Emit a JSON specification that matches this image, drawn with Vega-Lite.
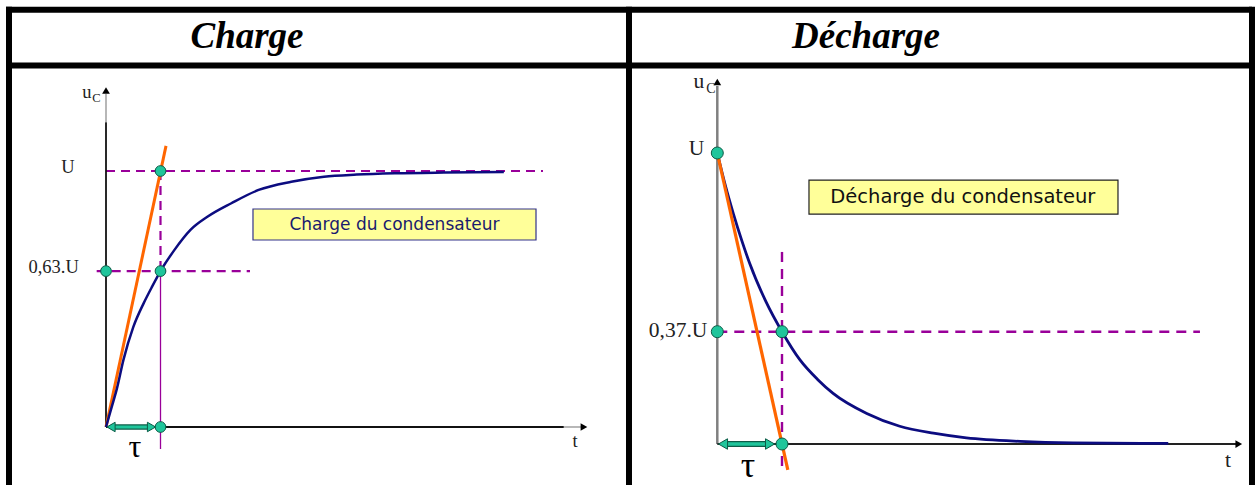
{
  "$schema": "https://vega.github.io/schema/vega-lite/v6.json",
  "padding": 0,
  "autosize": {"type": "pad"},
  "background": "white",
  "spacing": 0,
  "bounds": "flush",
  "config": {"view": {"stroke": null}, "concat": {"spacing": 0}},
  "hconcat": [
    {
      "width": 632,
      "height": 489,
      "encoding": {
        "x": {"field": "t", "type": "quantitative", "scale": {"domain": [-1.945, 9.6514], "nice": false, "zero": false}, "axis": null},
        "y": {"field": "u", "type": "quantitative", "scale": {"domain": [-0.2422, 1.668], "nice": false, "zero": false}, "axis": null}
      },
      "layer": [
        {
          "data": {"values": [
            {"t": -1.7798, "t2": -1.7798, "u": 1.6418, "u2": -0.2266},
            {"t": 9.5963, "t2": 9.5963, "u": 1.6418, "u2": -0.2266},
            {"t": -1.8349, "t2": 9.6514, "u": 1.6301, "u2": 1.6301},
            {"t": -1.8349, "t2": 9.6514, "u": 1.4121, "u2": 1.4121}
          ]},
          "mark": {"type": "rule", "color": "black", "strokeWidth": 6, "strokeCap": "butt"},
          "encoding": {"x2": {"field": "t2"}, "y2": {"field": "u2"}}
        },
        {
          "data": {"values": [{"label": "Charge", "t": 2.587, "u": 1.4805}]},
          "mark": {"type": "text", "font": "Liberation Serif", "fontSize": 37, "fontWeight": "bold", "fontStyle": "italic", "align": "center", "baseline": "alphabetic", "color": "black"},
          "encoding": {"text": {"field": "label"}}
        },
        {
          "data": {"values": [{"t": 2.697, "t2": 7.89, "u": 0.7305, "u2": 0.8516}]},
          "mark": {"type": "rect", "fill": "#ffff99", "stroke": "#33338a", "strokeWidth": 1.2},
          "encoding": {"x2": {"field": "t2"}, "y2": {"field": "u2"}}
        },
        {
          "data": {"values": [{"label": "Charge du condensateur", "t": 5.294, "u": 0.789}]},
          "mark": {"type": "text", "font": "DejaVu Sans", "fontSize": 17, "align": "center", "baseline": "middle", "color": "#1a1a6e"},
          "encoding": {"text": {"field": "label"}}
        },
        {
          "data": {"values": [
            {"t": 0, "t2": 8.018, "u": 1, "u2": 1},
            {"t": -0.171, "t2": 2.642, "u": 0.609, "u2": 0.609},
            {"t": 1, "t2": 1, "u": 1, "u2": 0.609}
          ]},
          "mark": {"type": "rule", "color": "#990099", "strokeWidth": 2.2, "strokeDash": [9, 6]},
          "encoding": {"x2": {"field": "t2"}, "y2": {"field": "u2"}}
        },
        {
          "data": {"values": [{"t": 1, "t2": 1, "u": 0.609, "u2": -0.086}]},
          "mark": {"type": "rule", "color": "#990099", "strokeWidth": 1.3},
          "encoding": {"x2": {"field": "t2"}, "y2": {"field": "u2"}}
        },
        {
          "data": {"values": [
            {"t": 0, "t2": 0, "u": 0, "u2": 1.19},
            {"t": 0, "t2": 8.4, "u": 0, "u2": 0}
          ]},
          "mark": {"type": "rule", "color": "#111111", "strokeWidth": 1.8},
          "encoding": {"x2": {"field": "t2"}, "y2": {"field": "u2"}}
        },
        {
          "data": {"values": [
            {"t": 0, "t2": 0, "u": 1.19, "u2": 1.3008},
            {"t": 8.4, "t2": 8.716, "u": 0, "u2": 0}
          ]},
          "mark": {"type": "rule", "color": "#888888", "strokeWidth": 1.2},
          "encoding": {"x2": {"field": "t2"}, "y2": {"field": "u2"}}
        },
        {
          "data": {"values": [{"t": 0, "u": 1.3145}]},
          "mark": {"type": "point", "shape": "triangle-up", "filled": true, "color": "black", "size": 60, "opacity": 1}
        },
        {
          "data": {"values": [{"t": 8.77, "u": 0}]},
          "mark": {"type": "point", "shape": "triangle-right", "filled": true, "color": "black", "size": 60, "opacity": 1}
        },
        {
          "data": {"values": [{"t": 0, "t2": 1.101, "u": 0, "u2": 1.098}]},
          "mark": {"type": "rule", "color": "#ff6600", "strokeWidth": 3},
          "encoding": {"x2": {"field": "t2"}, "y2": {"field": "u2"}}
        },
        {
          "data": {"values": [
            {"t": 0, "u": 0}, {"t": 0.1, "u": 0.075}, {"t": 0.2, "u": 0.15}, {"t": 0.32, "u": 0.262},
            {"t": 0.5, "u": 0.39}, {"t": 0.69, "u": 0.483}, {"t": 0.85, "u": 0.55}, {"t": 1.0, "u": 0.609},
            {"t": 1.25, "u": 0.69}, {"t": 1.55, "u": 0.77}, {"t": 1.86, "u": 0.821}, {"t": 2.3, "u": 0.874},
            {"t": 2.8, "u": 0.926}, {"t": 3.4, "u": 0.958}, {"t": 4.0, "u": 0.978}, {"t": 4.6, "u": 0.986},
            {"t": 5.3, "u": 0.991}, {"t": 6.2, "u": 0.994}, {"t": 7.3, "u": 0.996}
          ]},
          "mark": {"type": "line", "color": "#0c0c80", "strokeWidth": 2.5, "interpolate": "monotone"}
        },
        {
          "data": {"values": [{"t": 0.09, "t2": 0.84, "u": 0, "u2": 0}]},
          "mark": {"type": "rule", "color": "#0d5c47", "strokeWidth": 5.5},
          "encoding": {"x2": {"field": "t2"}, "y2": {"field": "u2"}}
        },
        {
          "data": {"values": [{"t": 0.09, "t2": 0.84, "u": 0, "u2": 0}]},
          "mark": {"type": "rule", "color": "#1fc59b", "strokeWidth": 3},
          "encoding": {"x2": {"field": "t2"}, "y2": {"field": "u2"}}
        },
        {
          "data": {"values": [{"t": 0.092, "u": 0}]},
          "mark": {"type": "point", "shape": "triangle-left", "filled": true, "fill": "#1fc59b", "stroke": "#0d5c47", "strokeWidth": 1, "size": 90, "opacity": 1}
        },
        {
          "data": {"values": [{"t": 0.835, "u": 0}]},
          "mark": {"type": "point", "shape": "triangle-right", "filled": true, "fill": "#1fc59b", "stroke": "#0d5c47", "strokeWidth": 1, "size": 90, "opacity": 1}
        },
        {
          "data": {"values": [{"t": 1, "u": 1}, {"t": 0, "u": 0.609}, {"t": 1, "u": 0.609}, {"t": 1, "u": 0}]},
          "mark": {"type": "point", "shape": "circle", "filled": true, "fill": "#1fc59b", "stroke": "#0d5c47", "strokeWidth": 1, "size": 115, "opacity": 1}
        },
        {
          "data": {"values": [
            {"label": "U", "t": -0.697, "u": 0.992},
            {"label": "0,63.U", "t": -0.96, "u": 0.6016},
            {"label": "u", "t": -0.349, "u": 1.285},
            {"label": "t", "t": 8.606, "u": -0.078}
          ]},
          "mark": {"type": "text", "font": "Liberation Serif", "fontSize": 18.5, "align": "center", "baseline": "alphabetic", "color": "#222222"},
          "encoding": {"text": {"field": "label"}}
        },
        {
          "data": {"values": [{"label": "C", "t": -0.174, "u": 1.27}]},
          "mark": {"type": "text", "font": "Liberation Serif", "fontSize": 12.5, "align": "center", "baseline": "alphabetic", "color": "#222222"},
          "encoding": {"text": {"field": "label"}}
        },
        {
          "data": {"values": [{"label": "τ", "t": 0.532, "u": -0.117}]},
          "mark": {"type": "text", "font": "Liberation Serif", "fontSize": 32, "align": "center", "baseline": "alphabetic", "color": "black"},
          "encoding": {"text": {"field": "label"}}
        }
      ]
    },
    {
      "width": 623,
      "height": 489,
      "encoding": {
        "x": {"field": "t", "type": "quantitative", "scale": {"domain": [-1.3184, 8.3107], "nice": false, "zero": false}, "axis": null},
        "y": {"field": "u", "type": "quantitative", "scale": {"domain": [-0.1546, 1.5258], "nice": false, "zero": false}, "axis": null}
      },
      "layer": [
        {
          "data": {"values": [
            {"t": 8.2643, "t2": 8.2643, "u": 1.5027, "u2": -0.1409},
            {"t": -1.3184, "t2": 8.2643, "u": 1.4924, "u2": 1.4924},
            {"t": -1.3184, "t2": 8.2643, "u": 1.3007, "u2": 1.3007}
          ]},
          "mark": {"type": "rule", "color": "black", "strokeWidth": 6, "strokeCap": "butt"},
          "encoding": {"x2": {"field": "t2"}, "y2": {"field": "u2"}}
        },
        {
          "data": {"values": [{"label": "Décharge", "t": 2.298, "u": 1.3608}]},
          "mark": {"type": "text", "font": "Liberation Serif", "fontSize": 37, "fontWeight": "bold", "fontStyle": "italic", "align": "center", "baseline": "alphabetic", "color": "black"},
          "encoding": {"text": {"field": "label"}}
        },
        {
          "data": {"values": [{"t": 1.417, "t2": 6.193, "u": 0.79, "u2": 0.907}]},
          "mark": {"type": "rect", "fill": "#ffff99", "stroke": "#222222", "strokeWidth": 1.2},
          "encoding": {"x2": {"field": "t2"}, "y2": {"field": "u2"}}
        },
        {
          "data": {"values": [{"label": "Décharge du condensateur", "t": 3.795, "u": 0.849}]},
          "mark": {"type": "text", "font": "DejaVu Sans", "fontSize": 19.5, "align": "center", "baseline": "middle", "color": "#111111"},
          "encoding": {"text": {"field": "label"}}
        },
        {
          "data": {"values": [
            {"t": 0, "t2": 7.46, "u": 0.386, "u2": 0.386},
            {"t": 1, "t2": 1, "u": 0.66, "u2": -0.0893}
          ]},
          "mark": {"type": "rule", "color": "#990099", "strokeWidth": 2.4, "strokeDash": [10, 7]},
          "encoding": {"x2": {"field": "t2"}, "y2": {"field": "u2"}}
        },
        {
          "data": {"values": [{"t": 0, "t2": 0, "u": 0, "u2": 1.2302}]},
          "mark": {"type": "rule", "color": "#808080", "strokeWidth": 2.5},
          "encoding": {"x2": {"field": "t2"}, "y2": {"field": "u2"}}
        },
        {
          "data": {"values": [{"t": 0, "t2": 8.03, "u": 0, "u2": 0}]},
          "mark": {"type": "rule", "color": "#222222", "strokeWidth": 1.8},
          "encoding": {"x2": {"field": "t2"}, "y2": {"field": "u2"}}
        },
        {
          "data": {"values": [{"t": 0, "u": 1.244}]},
          "mark": {"type": "point", "shape": "triangle-up", "filled": true, "color": "black", "size": 60, "opacity": 1}
        },
        {
          "data": {"values": [{"t": 8.06, "u": 0}]},
          "mark": {"type": "point", "shape": "triangle-right", "filled": true, "color": "black", "size": 60, "opacity": 1}
        },
        {
          "data": {"values": [
            {"t": 0, "u": 1.0}, {"t": 0.12, "u": 0.892}, {"t": 0.25, "u": 0.79}, {"t": 0.38, "u": 0.698},
            {"t": 0.5, "u": 0.621}, {"t": 0.75, "u": 0.49}, {"t": 1.0, "u": 0.386}, {"t": 1.278, "u": 0.289},
            {"t": 1.55, "u": 0.222}, {"t": 1.79, "u": 0.174}, {"t": 2.31, "u": 0.105}, {"t": 2.82, "u": 0.061},
            {"t": 3.34, "u": 0.037}, {"t": 3.85, "u": 0.021}, {"t": 4.68, "u": 0.009}, {"t": 5.5, "u": 0.004},
            {"t": 6.97, "u": 0.002}
          ]},
          "mark": {"type": "line", "color": "#0c0c80", "strokeWidth": 2.8, "interpolate": "monotone"}
        },
        {
          "data": {"values": [{"t": 0, "t2": 1.09, "u": 1.0, "u2": -0.089}]},
          "mark": {"type": "rule", "color": "#ff6600", "strokeWidth": 3.2},
          "encoding": {"x2": {"field": "t2"}, "y2": {"field": "u2"}}
        },
        {
          "data": {"values": [{"t": 0.09, "t2": 0.82, "u": 0, "u2": 0}]},
          "mark": {"type": "rule", "color": "#0d5c47", "strokeWidth": 6},
          "encoding": {"x2": {"field": "t2"}, "y2": {"field": "u2"}}
        },
        {
          "data": {"values": [{"t": 0.09, "t2": 0.82, "u": 0, "u2": 0}]},
          "mark": {"type": "rule", "color": "#1fc59b", "strokeWidth": 3.5},
          "encoding": {"x2": {"field": "t2"}, "y2": {"field": "u2"}}
        },
        {
          "data": {"values": [{"t": 0.088, "u": 0}]},
          "mark": {"type": "point", "shape": "triangle-left", "filled": true, "fill": "#1fc59b", "stroke": "#0d5c47", "strokeWidth": 1, "size": 110, "opacity": 1}
        },
        {
          "data": {"values": [{"t": 0.815, "u": 0}]},
          "mark": {"type": "point", "shape": "triangle-right", "filled": true, "fill": "#1fc59b", "stroke": "#0d5c47", "strokeWidth": 1, "size": 110, "opacity": 1}
        },
        {
          "data": {"values": [{"t": 0, "u": 1.0}, {"t": 0, "u": 0.386}, {"t": 1, "u": 0.386}, {"t": 1, "u": 0}]},
          "mark": {"type": "point", "shape": "circle", "filled": true, "fill": "#1fc59b", "stroke": "#0d5c47", "strokeWidth": 1, "size": 144, "opacity": 1}
        },
        {
          "data": {"values": [
            {"label": "U", "t": -0.32, "u": 0.993},
            {"label": "0,37.U", "t": -0.607, "u": 0.368},
            {"label": "u", "t": -0.283, "u": 1.223},
            {"label": "t", "t": 7.893, "u": -0.079}
          ]},
          "mark": {"type": "text", "font": "Liberation Serif", "fontSize": 21.5, "align": "center", "baseline": "alphabetic", "color": "#222222"},
          "encoding": {"text": {"field": "label"}}
        },
        {
          "data": {"values": [{"label": "C", "t": -0.097, "u": 1.206}]},
          "mark": {"type": "text", "font": "Liberation Serif", "fontSize": 14, "align": "center", "baseline": "alphabetic", "color": "#222222"},
          "encoding": {"text": {"field": "label"}}
        },
        {
          "data": {"values": [{"label": "τ", "t": 0.474, "u": -0.113}]},
          "mark": {"type": "text", "font": "Liberation Serif", "fontSize": 36, "align": "center", "baseline": "alphabetic", "color": "black"},
          "encoding": {"text": {"field": "label"}}
        }
      ]
    }
  ]
}
